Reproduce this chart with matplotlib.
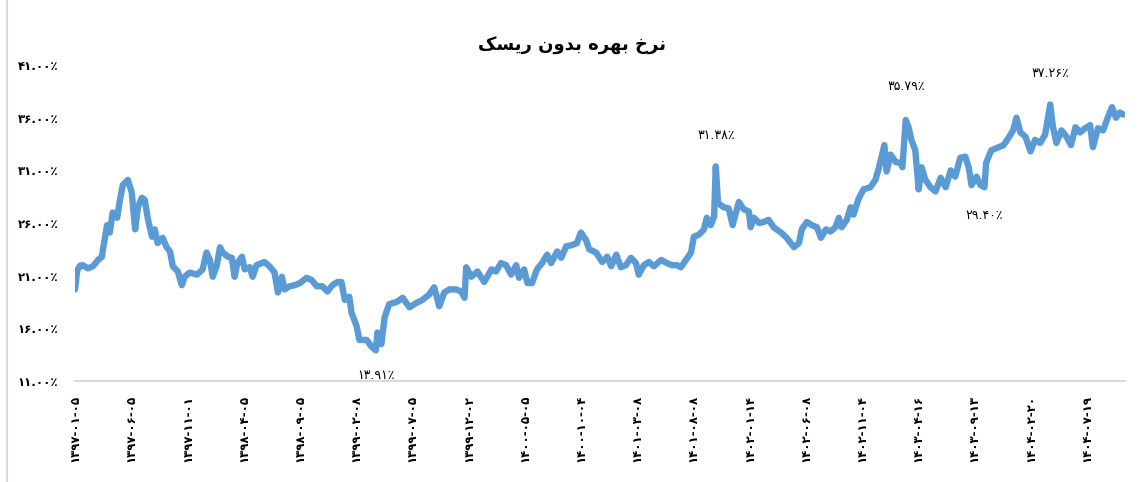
import matplotlib
matplotlib.use('Agg')
import matplotlib.pyplot as plt

# daily index (labels every 100 points) and risk-free rate in percent
idx = [0, 4, 9, 14, 23, 32, 41, 48, 50, 53, 57, 62, 67, 75, 80, 85, 94, 101, 107, 112,
       119, 124, 130, 137, 142, 147, 156, 163, 169, 174, 183, 190, 195, 204, 217, 227, 234, 240, 245, 252,
       258, 263, 272, 279, 284, 289, 297, 302, 311, 316, 323, 332, 337, 346, 355, 361, 368, 373, 382, 391,
       400, 412, 421, 430, 440, 449, 458, 467, 474, 480, 488, 492, 501, 506, 519, 527, 535, 538, 545, 551,
       559, 572, 583, 595, 607, 618, 630, 639, 648, 657, 666, 678, 687, 693, 696, 705, 716, 728, 741, 749,
       758, 767, 776, 785, 790, 799, 805, 813, 822, 831, 840, 847, 858, 865, 874, 884, 893, 900, 909, 915,
       927, 938, 947, 954, 963, 971, 980, 989, 998, 1003, 1012, 1021, 1030, 1043, 1053, 1062, 1071, 1078, 1087, 1096,
       1101, 1110, 1119, 1124, 1131, 1137, 1140, 1144, 1154, 1163, 1170, 1181, 1190, 1199, 1202, 1208, 1217, 1225, 1234, 1243,
       1256, 1266, 1279, 1288, 1293, 1302, 1311, 1320, 1327, 1336, 1344, 1353, 1359, 1364, 1373, 1380, 1385, 1394, 1403, 1415,
       1424, 1430, 1435, 1440, 1444, 1451, 1460, 1469, 1472, 1478, 1483, 1488, 1495, 1501, 1506, 1513, 1522, 1531, 1540, 1549,
       1558, 1566, 1575, 1584, 1590, 1595, 1604, 1611, 1618, 1621, 1630, 1639, 1652, 1661, 1669, 1675, 1682, 1691, 1700, 1708,
       1717, 1726, 1735, 1740, 1746, 1755, 1764, 1772, 1780, 1788, 1797, 1806, 1811, 1820, 1829, 1838, 1845, 1852, 1859, 1865]
rate = [19.7, 21.5, 21.95, 22.0, 21.7, 21.9, 22.5, 22.8, 23.6, 24.5, 25.8, 25.1, 27.0, 26.5, 28.2, 29.6, 30.1, 28.9, 25.4, 27.5,
        28.4, 28.2, 26.3, 24.7, 25.4, 24.1, 24.6, 23.7, 23.3, 21.9, 21.4, 20.1, 20.9, 21.3, 21.1, 21.6, 23.2, 22.5, 20.9, 21.9,
        23.7, 23.2, 22.8, 22.7, 20.9, 22.2, 22.8, 21.6, 21.8, 20.9, 22.0, 22.2, 22.3, 21.9, 21.3, 19.4, 20.9, 19.7, 20.0, 20.1,
        20.3, 20.8, 20.6, 20.0, 20.0, 19.5, 20.1, 20.4, 20.4, 18.7, 19.0, 17.5, 16.2, 14.9, 14.9, 14.3, 13.91, 15.6, 14.5, 17.1,
        18.3, 18.5, 18.9, 18.0, 18.4, 18.7, 19.2, 19.9, 18.1, 19.4, 19.7, 19.7, 19.5, 18.9, 21.8, 20.9, 21.4, 20.4, 21.6, 21.4,
        22.2, 22.0, 21.1, 22.0, 20.8, 21.6, 20.3, 20.3, 21.6, 22.2, 23.0, 22.2, 23.3, 22.7, 23.8, 23.9, 24.1, 25.1, 24.4, 23.5,
        23.2, 22.3, 22.8, 21.9, 23.0, 21.8, 22.0, 22.7, 22.2, 21.1, 22.0, 22.3, 21.9, 22.5, 22.2, 22.0, 22.0, 21.8, 22.5, 23.2,
        24.7, 24.9, 25.4, 26.5, 25.8, 26.6, 31.38, 27.9, 27.5, 27.4, 25.8, 28.0, 27.3, 27.1, 25.6, 26.5, 26.0, 26.1, 26.3, 25.6,
        25.1, 24.6, 23.7, 24.1, 25.4, 26.1, 25.8, 25.6, 24.6, 25.4, 25.2, 25.6, 26.5, 25.6, 26.3, 27.5, 26.8, 28.3, 29.2, 29.4,
        30.1, 31.2, 32.3, 33.4, 30.9, 32.5, 31.8, 31.7, 31.3, 35.79, 35.1, 33.9, 32.9, 29.2, 31.3, 30.1, 29.4, 29.0, 30.3, 29.4,
        31.0, 30.4, 32.2, 32.3, 31.3, 29.6, 30.4, 29.6, 29.40, 31.7, 32.9, 33.1, 33.4, 34.1, 34.8, 36.0, 34.6, 34.2, 32.8, 33.9,
        33.6, 34.4, 37.26, 35.1, 33.6, 34.8, 34.2, 33.4, 35.1, 34.6, 35.0, 35.3, 33.2, 35.0, 34.8, 36.1, 37.0, 36.0, 36.5, 36.3]

tick_pos = list(range(0, 1801, 100))
tick_dates = ['1397-01-05', '1397-06-05', '1397-11-01', '1398-04-05', '1398-09-05',
              '1399-02-08', '1399-07-05', '1399-12-02', '1400-05-05', '1400-10-04',
              '1401-03-08', '1401-08-08', '1402-01-14', '1402-06-08', '1402-11-04',
              '1403-04-16', '1403-09-13', '1404-02-20', '1404-07-19']
y_ticks = [11, 16, 21, 26, 31, 36, 41]

# labelled points: (index, value, x offset pt, y offset pt)
notes = [(535, 13.91, 0, -18), (1140, 31.38, 0, 22), (1478, 35.79, 0, 24),
         (1618, 29.40, 0, -20), (1735, 37.26, 0, 22)]

title = '\uFB8F\uFEB4\uFBFE\uFEAD \uFEE5\uFEED\uFEAA\uFE91 \uFEE9\uFEAE\uFEEC\uFE91 \uFEA5\uFEAE\uFEE7'

FA = str.maketrans('0123456789', '۰۱۲۳۴۵۶۷۸۹')
def fa(s):
    return s.translate(FA)

plt.rcParams['font.family'] = ['DejaVu Sans']

fig = plt.figure(figsize=(11.45, 4.82), dpi=100)
ax = fig.add_axes([0.0655, 0.2095, 0.917, 0.6555])

ax.plot(idx, rate, color='#5B9BD5', linewidth=4.6, solid_joinstyle='round', solid_capstyle='round')

ax.set_xlim(0, 1868)
ax.set_ylim(11, 41)
ax.set_yticks(y_ticks)
ax.set_yticklabels([fa('%.2f' % v) + '٪' for v in y_ticks], fontsize=8.5, fontweight='bold')
ax.set_xticks(tick_pos)
ax.set_xticklabels([fa(d) for d in tick_dates], rotation=90, fontsize=8.5, fontweight='bold')
ax.tick_params(length=0, pad=10)
ax.tick_params(axis='y', pad=12)

for s in ['top', 'right', 'left']:
    ax.spines[s].set_visible(False)
ax.spines['bottom'].set_color('#D9D9D9')
ax.spines['bottom'].set_linewidth(1.5)

for i, v, dx, dy in notes:
    ax.annotate(fa('%.2f' % v) + '٪', xy=(i, v), xytext=(dx, dy), textcoords='offset points',
                ha='center', va='center', fontsize=9)

fig.text(0.50, 0.905, title, ha='center', va='center', fontsize=13, fontweight='bold')
fig.add_artist(plt.Line2D([0.006, 0.006], [0.0, 1.0], color='#D9D9D9', linewidth=1.5))

fig.savefig('out.png', dpi=100)
